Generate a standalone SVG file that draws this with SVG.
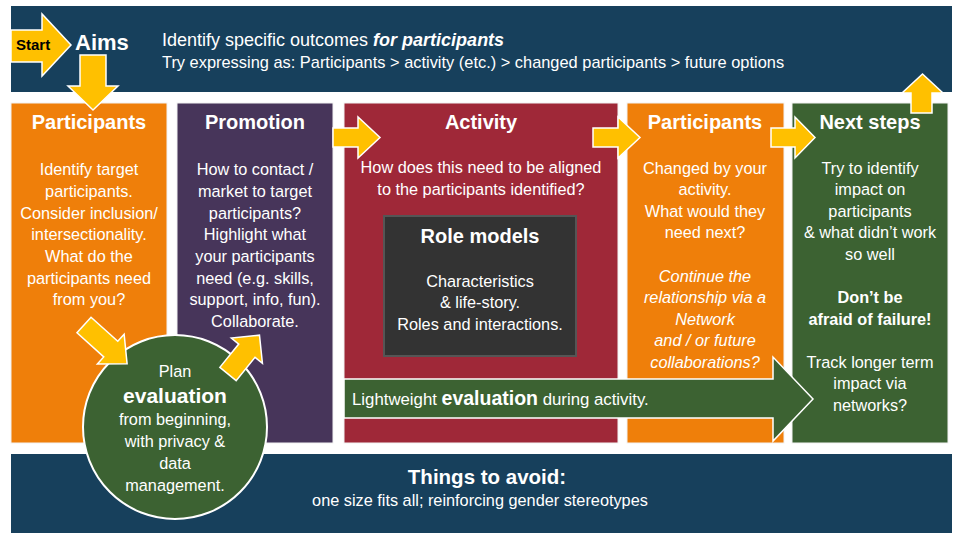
<svg xmlns="http://www.w3.org/2000/svg" width="960" height="540" viewBox="0 0 960 540">
<style>
text{font-family:"Liberation Sans",Arial,sans-serif;fill:#fff}
.t{font-size:20px;font-weight:bold;text-anchor:middle}
.b{font-size:16.3px;text-anchor:middle}
.bi{font-style:italic}
.bb{font-weight:bold}
.ya{fill:#ffc000;stroke:#fff;stroke-width:1.5;stroke-linejoin:miter}
.col{stroke:#f2f2f2;stroke-width:1}
</style>
<rect width="960" height="540" fill="#fff"/>

<g id="aims">
<rect x="11" y="6" width="941" height="86" fill="#17405c"/>
<text x="75" y="50" style="font-size:22px;font-weight:bold">Aims</text>
<text x="162" y="46" style="font-size:18px">Identify specific outcomes <tspan style="font-weight:bold;font-style:italic">for participants</tspan></text>
<text x="162" y="68" style="font-size:16.4px">Try expressing as: Participants &gt; activity (etc.) &gt; changed participants &gt; future options</text>
</g>

<g id="participants">
<rect class="col" x="11" y="103" width="156" height="340" fill="#ef7f0a"/>
<text class="t" x="89" y="129">Participants</text>
<text class="b" x="89" y="175">Identify target</text>
<text class="b" x="89" y="197">participants.</text>
<text class="b" x="89" y="219">Consider inclusion/</text>
<text class="b" x="89" y="240">intersectionality.</text>
<text class="b" x="89" y="262">What do the</text>
<text class="b" x="89" y="284">participants need</text>
<text class="b" x="89" y="305">from you?</text>
</g>

<g id="promotion">
<rect class="col" x="177" y="103" width="156" height="340" fill="#47355a"/>
<text class="t" x="255" y="129">Promotion</text>
<text class="b" x="255" y="175">How to contact /</text>
<text class="b" x="255" y="197">market to target</text>
<text class="b" x="255" y="219">participants?</text>
<text class="b" x="255" y="240">Highlight what</text>
<text class="b" x="255" y="262">your participants</text>
<text class="b" x="255" y="284">need (e.g. skills,</text>
<text class="b" x="255" y="305">support, info, fun).</text>
<text class="b" x="255" y="327">Collaborate.</text>
</g>

<g id="activity">
<rect class="col" x="344" y="103" width="274" height="340" fill="#9f2838"/>
<text class="t" x="481" y="129">Activity</text>
<text class="b" x="481" y="173">How does this need to be aligned</text>
<text class="b" x="481" y="195">to the participants identified?</text>
</g>

<g id="role-models">
<rect x="384" y="216" width="192" height="140" fill="#333" stroke="#555" stroke-width="2"/>
<text class="t" x="480" y="243">Role models</text>
<text class="b" x="480" y="287">Characteristics</text>
<text class="b" x="480" y="308">&amp; life-story.</text>
<text class="b" x="480" y="330">Roles and interactions.</text>
</g>

<g id="participants-changed">
<rect class="col" x="627" y="103" width="157" height="340" fill="#ef7f0a"/>
<text class="t" x="705" y="129">Participants</text>
<text class="b" x="705" y="174">Changed by your</text>
<text class="b" x="705" y="195">activity.</text>
<text class="b" x="705" y="217">What would they</text>
<text class="b" x="705" y="238">need next?</text>
<text class="b bi" x="705" y="282">Continue the</text>
<text class="b bi" x="705" y="303">relationship via a</text>
<text class="b bi" x="705" y="325">Network</text>
<text class="b bi" x="705" y="346">and / or future</text>
<text class="b bi" x="705" y="368">collaborations?</text>
</g>

<g id="next-steps">
<rect class="col" x="792" y="103" width="156" height="340" fill="#3c6232"/>
<text class="t" x="870" y="129">Next steps</text>
<text class="b" x="870" y="174">Try to identify</text>
<text class="b" x="870" y="195">impact on</text>
<text class="b" x="870" y="217">participants</text>
<text class="b" x="870" y="238">&amp; what didn’t work</text>
<text class="b" x="870" y="260">so well</text>
<text class="b bb" x="870" y="303">Don’t be</text>
<text class="b bb" x="870" y="325">afraid of failure!</text>
<text class="b" x="870" y="368">Track longer term</text>
<text class="b" x="870" y="389">impact via</text>
<text class="b" x="870" y="411">networks?</text>
</g>

<g id="avoid">
<rect x="11" y="454" width="941" height="79" fill="#17405c"/>
<text x="487" y="484" style="font-size:20.5px;font-weight:bold;text-anchor:middle">Things to avoid:</text>
<text x="480" y="506" style="font-size:16.3px;text-anchor:middle">one size fits all; reinforcing gender stereotypes</text>
</g>

<g id="lightweight-evaluation">
<polygon points="344,379 773,379 773,357 813,399 773,441 773,418 344,418" fill="#3c6232" stroke="#fff" stroke-width="1.5"/>
<text x="352" y="405" style="font-size:16.8px">Lightweight <tspan style="font-size:19.5px;font-weight:bold">evaluation</tspan> during activity.</text>
</g>

<g id="plan-evaluation">
<circle cx="175" cy="427" r="92" fill="#3c6232" stroke="#fff" stroke-width="2"/>
<text class="b" x="175" y="377">Plan</text>
<text x="175" y="403" style="font-size:21px;font-weight:bold;text-anchor:middle">evaluation</text>
<text class="b" x="175" y="425">from beginning,</text>
<text class="b" x="175" y="447">with privacy &amp;</text>
<text class="b" x="175" y="469">data</text>
<text class="b" x="175" y="491">management.</text>
</g>

<g id="connectors">
<g id="start">
<polygon class="ya" points="11,30 42,30 42,14 71,45 42,76 42,62 11,62"/>
<text x="16" y="50" style="font-size:15px;font-weight:bold;fill:#000">Start</text>
</g>
<polygon class="ya" points="80,55 106,55 106,86 118,86 93,110 68,86 80,86"/>
<polygon class="ya" points="911,113 911,93 902,93 922.5,74 943,93 932,93 932,113"/>
<polygon class="ya" points="333,128 358,128 358,117 380,137.5 358,158 358,147 333,147"/>
<polygon class="ya" points="593,128 618,128 618,117 640,137.5 618,158 618,147 593,147"/>
<polygon class="ya" points="771,128 795,128 795,117 815,137.5 795,158 795,147 771,147"/>
<polygon class="ya" transform="translate(84,325) rotate(42)" points="0,-10.5 36,-10.5 36,-20 58,0 36,20 36,10.5 0,10.5"/>
<polygon class="ya" transform="translate(228,374) rotate(-51)" points="0,-10.5 30,-10.5 30,-20 50,0 30,20 30,10.5 0,10.5"/>
</g>
</svg>
